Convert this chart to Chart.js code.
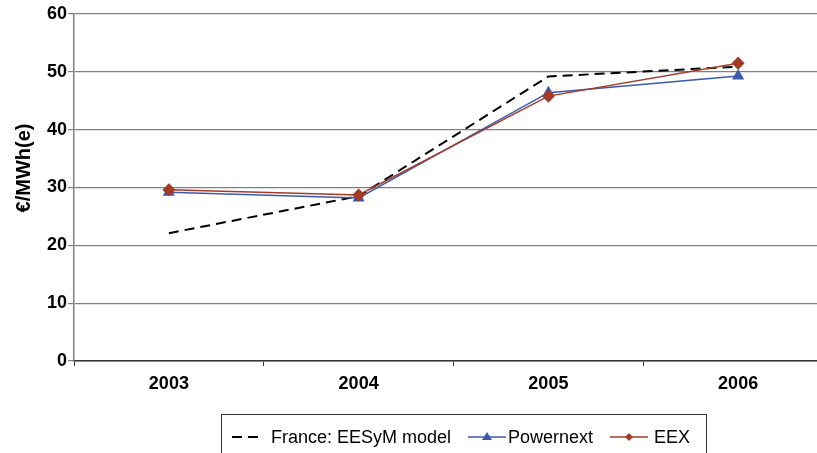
<!DOCTYPE html>
<html>
<head>
<meta charset="utf-8">
<script src="https://cdn.jsdelivr.net/npm/chart.js@4/dist/chart.umd.min.js"></script>
<style>
  html, body { margin: 0; padding: 0; background: #fff; overflow: hidden; }
  #wrap { position: relative; width: 817px; height: 453px; overflow: hidden; }
  #holder { position: absolute; left: 0; top: 0; width: 840px; height: 453px; }
  #ytitle {
    position: absolute; left: 23px; top: 168px; width: 120px; height: 24px;
    margin-left: -60px; margin-top: -12px; text-align: center; line-height: 24px;
    transform: rotate(-90deg);
    font-family: "Liberation Sans", Arial, sans-serif; font-size: 20px; font-weight: bold; color: #000;
  }
  #legend {
    position: absolute; left: 221px; top: 414px; width: 486px; height: 60px;
    border: 1px solid #333; box-sizing: border-box;
    font-family: "Liberation Sans", Arial, sans-serif; font-size: 18px; color: #000;
  }
  #legend .it { position: absolute; top: 12px; white-space: nowrap; line-height: 20px; }
  #legend svg { position: absolute; top: 0; }
</style>
</head>
<body>
<div id="wrap">
  <div id="holder"><canvas id="chart" width="840" height="453"></canvas></div>
  <div id="ytitle">€/MWh(e)</div>
  <div id="legend">
    <svg style="left:10px" width="32" height="44"><line x1="0" y1="22" x2="31" y2="22" stroke="#000" stroke-width="2" stroke-dasharray="10,6"/></svg>
    <span class="it" style="left:49px">France: EESyM model</span>
    <svg style="left:246px" width="38" height="44"><line x1="0" y1="22" x2="38" y2="22" stroke="#3a5aab" stroke-width="1.5"/><polygon points="19,17 24,25 14,25" fill="#3a5aab"/></svg>
    <span class="it" style="left:286px">Powernext</span>
    <svg style="left:388px" width="38" height="44"><line x1="0" y1="22" x2="38" y2="22" stroke="#a33b27" stroke-width="1.5"/><polygon points="19,18 23,22 19,26 15,22" fill="#a33b27"/></svg>
    <span class="it" style="left:432px">EEX</span>
  </div>
</div>
<script>
// données
var years = ["2003", "2004", "2005", "2006"];
var france = [22.1, 28.5, 49.2, 50.9];
var powernext = [29.2, 28.2, 46.4, 49.3];
var eex = [29.6, 28.7, 45.8, 51.5];
var yTicks = [0, 10, 20, 30, 40, 50, 60];

var ctx = document.getElementById('chart').getContext('2d');
var myChart = new Chart(ctx, {
  type: 'line',
  data: {
    labels: years,
    datasets: [{
      label: 'France: EESyM model',
      data: france,
      borderColor: '#000',
      borderWidth: 2,
      borderDash: [10, 6],
      pointRadius: 0,
      tension: 0,
      order: 2
    }, {
      label: 'Powernext',
      data: powernext,
      borderColor: '#3a5aab',
      backgroundColor: '#3a5aab',
      borderWidth: 1.5,
      pointStyle: 'triangle',
      pointRadius: 5.5,
      tension: 0,
      order: 1
    }, {
      label: 'EEX',
      data: eex,
      borderColor: '#a33b27',
      backgroundColor: '#a33b27',
      borderWidth: 1.5,
      pointStyle: 'rectRot',
      pointRadius: 5.5,
      tension: 0,
      order: 0
    }]
  },
  options: {
    responsive: false,
    animation: false,
    layout: { padding: { top: 14, right: 4, left: 0, bottom: 0 } },
    plugins: {
      legend: { display: false },
      tooltip: { enabled: false }
    },
    scales: {
      x: {
        offset: true,
        grid: { offset: true, drawOnChartArea: false, drawTicks: true, tickLength: 5, color: '#333' },
        border: { color: '#333', width: 1.5 },
        ticks: {
          color: '#000', padding: 7,
          font: { family: 'Liberation Sans', size: 18, weight: 'bold' }
        },
        afterFit: function(scale) { scale.height = 92; }
      },
      y: {
        min: 0, max: 60,
        afterBuildTicks: function(scale) {
          scale.ticks = yTicks.map(function(v) { return { value: v }; });
        },
        grid: { color: '#808080', lineWidth: 1.2, tickLength: 6 },
        border: { color: '#808080', width: 1.5 },
        ticks: {
          color: '#000', padding: 1,
          font: { family: 'Liberation Sans', size: 18, weight: 'bold' }
        },
        title: { display: false },
        afterFit: function(scale) { scale.width = 74; }
      }
    }
  },
  plugins: [{
    id: 'fondBlanc',
    beforeDraw: function(chart) {
      var c = chart.ctx;
      c.save();
      c.fillStyle = '#fff';
      c.fillRect(0, 0, chart.width, chart.height);
      c.restore();
    }
  }]
});
</script>
</body>
</html>
